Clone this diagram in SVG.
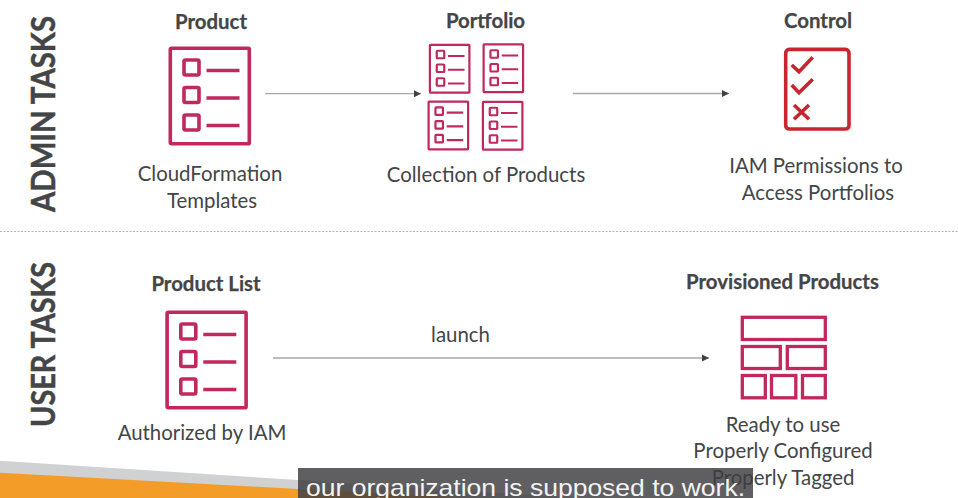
<svg xmlns="http://www.w3.org/2000/svg" width="958" height="498" viewBox="0 0 958 498">
<style>
text{font-family:Lato,"Open Sans",Arial,sans-serif;fill:#434547}
.t{font-size:20.4px;font-weight:700;text-anchor:middle;stroke:#434547;stroke-width:.25}
.l{font-size:20.4px;text-anchor:middle}
.h{font-size:32px;font-weight:700;stroke:#434547;stroke-width:.5}
.p{fill:none;stroke:#c0285e}
.big{stroke-width:3.6}
.small{stroke-width:4.4}
.r{fill:none;stroke:#c8262f;stroke-width:3.6;stroke-linejoin:miter}
.c{fill:none;stroke:#a8a8a8;stroke-width:1.3}
</style>
<defs>
<marker id="a" markerUnits="userSpaceOnUse" markerWidth="8" markerHeight="8" refX="7" refY="4" orient="auto"><path d="M0 .5L7 4L0 7.5Z" fill="#3f4143"/></marker>
<g id="list" class="p">
<rect x="1.8" y="1.8" width="79" height="95.400" rx="1"/>
<rect x="15.500" y="13.500" width="15" height="15" rx="1.500"/>
<rect x="15.500" y="41" width="15" height="15" rx="1.500"/>
<rect x="15.500" y="68.500" width="15" height="15" rx="1.500"/>
<path d="M38 24H71M38 51.500H71M38 79H71"/>
</g>
</defs>
<rect width="958" height="498" fill="#fff"/>
<g id="background">
<path d="M0 460.700L298 480L575 498H0Z" fill="#d0d1d2"/>
<path d="M0 472.700L298 489L462 498H0Z" fill="#f39c27"/>
</g>
<g id="section-labels">
<text class="h" transform="translate(55 212) rotate(-90)" textLength="196" lengthAdjust="spacingAndGlyphs">ADMIN TASKS</text>
<text class="h" transform="translate(55 427) rotate(-90)" textLength="165" lengthAdjust="spacingAndGlyphs">USER TASKS</text>
<path d="M0 231.500H958" fill="none" stroke="#b5b5b5" stroke-width="1.2" stroke-dasharray="2 1.500"/>
</g>
<g id="connectors">
<path class="c" marker-end="url(#a)" d="M265 93.700H421"/>
<path class="c" marker-end="url(#a)" d="M573 93.500H729"/>
<path class="c" marker-end="url(#a)" d="M273 358H709"/>
</g>
<g id="launch-label"><text class="l" x="460.500" y="342">launch</text></g>
<g id="product">
<text class="t" x="211" y="29">Product</text>
<use href="#list" class="big" transform="translate(168.500 46.500)"/>
<text class="l" x="210" y="181">CloudFormation</text>
<text class="l" x="212" y="207.500">Templates</text>
</g>
<g id="portfolio">
<text class="t" x="485.500" y="27.500">Portfolio</text>
<use href="#list" class="small" transform="translate(429 44) scale(.5)"/>
<use href="#list" class="small" transform="translate(482.700 43.500) scale(.5)"/>
<use href="#list" class="small" transform="translate(427.700 100.700) scale(.5)"/>
<use href="#list" class="small" transform="translate(482 101) scale(.5)"/>
<text class="l" x="486" y="182">Collection of Products</text>
</g>
<g id="control">
<text class="t" x="818" y="27.500">Control</text>
<rect class="r" x="785.700" y="49.400" width="63.300" height="79.600" rx="3.500"/>
<path class="r" d="M791.700 65L799 71.700L812.700 57.300M791.700 85L799 92.700L812.700 79.300M794 105L809 119.300M809 105L794 119.300"/>
<text class="l" x="816" y="173">IAM Permissions to</text>
<text class="l" x="818" y="199.500">Access Portfolios</text>
</g>
<g id="product-list">
<text class="t" x="206" y="290.500">Product List</text>
<use href="#list" class="big" transform="translate(165.300 310.500)"/>
<text class="l" x="202" y="439.500">Authorized by IAM</text>
</g>
<g id="provisioned-products">
<text class="t" x="782.500" y="288.500">Provisioned Products</text>
<g fill="none" stroke="#c0285e" stroke-width="3.300">
<rect x="742.300" y="317.300" width="83" height="22.200"/>
<rect x="742.300" y="346.500" width="38" height="22"/>
<rect x="787.300" y="346.500" width="38" height="22"/>
<rect x="742.300" y="375.500" width="23" height="22.300"/>
<rect x="771.500" y="375.500" width="24.300" height="22.300"/>
<rect x="802.500" y="375.500" width="22.800" height="22.300"/>
</g>
<text class="l" x="783" y="431.500">Ready to use</text>
<text class="l" x="783" y="458">Properly Configured</text>
<text class="l" x="783" y="484.500">Properly Tagged</text>
</g>
<g id="caption">
<rect x="298" y="468" width="455" height="30" fill="#3c3c3e" fill-opacity=".82"/>
<text x="306" y="496" textLength="439" lengthAdjust="spacingAndGlyphs" style="font-family:'Liberation Sans',Arial,sans-serif;font-size:24px;fill:#f4f4f4">our organization is supposed to work.</text>
</g>
</svg>
